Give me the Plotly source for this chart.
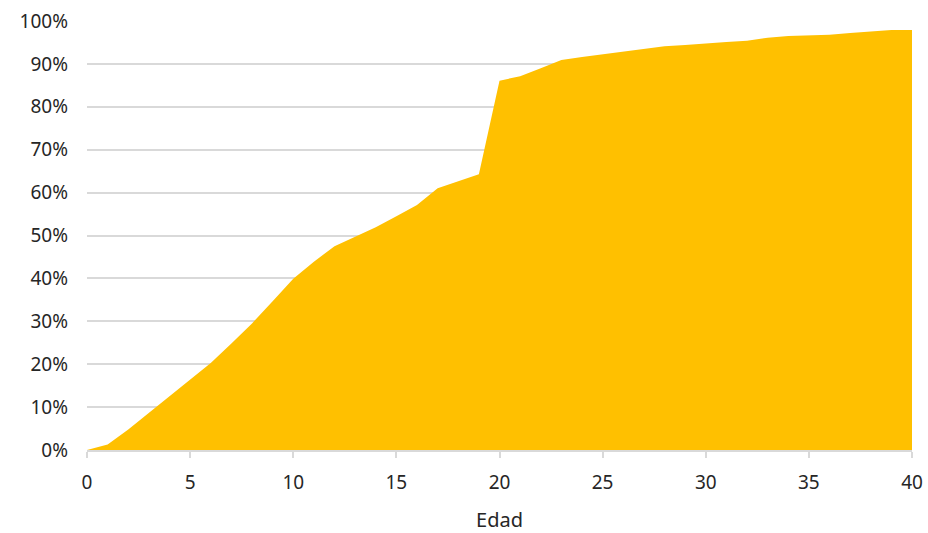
import plotly.graph_objects as go

# Edad (años) y porcentaje acumulado
edad = list(range(0, 41))
acumulado = [
    0.0, 1.3, 4.8, 8.7, 12.5, 16.3, 20.3, 24.8, 29.5, 34.7,
    39.9, 43.9, 47.5, 49.7, 51.9, 54.5, 57.1, 61.0, 62.7, 64.3,
    86.1, 87.1, 89.0, 90.9, 91.6, 92.2, 92.8, 93.5, 94.1, 94.4,
    94.8, 95.1, 95.4, 96.1, 96.5, 96.7, 96.8, 97.2, 97.6, 97.9,
    97.9,
]
y_ticks = [0, 10, 20, 30, 40, 50, 60, 70, 80, 90, 100]
y_labels = [f"{v}%" for v in y_ticks]

FONT = "Noto Sans"
TEXT = "#262626"

fig = go.Figure(
    go.Scatter(
        x=edad,
        y=acumulado,
        mode="lines",
        line=dict(width=0, color="#FFC000"),
        fill="tozeroy",
        fillcolor="#FFC000",
        hoverinfo="x+y",
    )
)

fig.update_layout(
    width=928,
    height=533,
    margin=dict(l=87, r=16, t=21, b=83),
    paper_bgcolor="white",
    plot_bgcolor="white",
    showlegend=False,
    font=dict(family=FONT, size=19, color=TEXT),
)

fig.update_xaxes(
    range=[0, 40],
    automargin=False,
    tickmode="array",
    tickvals=list(range(0, 41, 5)),
    showgrid=False,
    showline=True,
    linecolor="#D9D9D9",
    linewidth=1.5,
    ticks="outside",
    ticklen=6,
    tickcolor="#D9D9D9",
    tickwidth=1.5,
    zeroline=False,
    ticklabelstandoff=8,
    tickfont=dict(family=FONT, size=19, color=TEXT),
    title=dict(text="Edad", font=dict(family=FONT, size=20, color=TEXT), standoff=22),
)

fig.update_yaxes(
    range=[0, 100],
    automargin=False,
    tickmode="array",
    tickvals=y_ticks,
    ticktext=y_labels,
    showgrid=True,
    gridcolor="#D9D9D9",
    gridwidth=1.5,
    showline=False,
    zeroline=False,
    ticks="",
    ticklabelstandoff=18,
    tickfont=dict(family=FONT, size=19, color=TEXT),
)

fig.write_html("out.html")
